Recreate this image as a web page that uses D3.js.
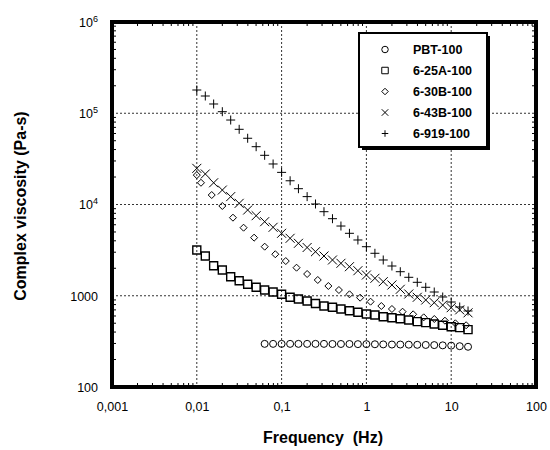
<!DOCTYPE html>
<html>
<head>
<meta charset="utf-8">
<script src="https://cdn.jsdelivr.net/npm/d3@7"></script>
<style>
  html, body { margin: 0; padding: 0; background: #fff; }
  svg { display: block; font-family: "Liberation Sans", Arial, sans-serif; }
</style>
</head>
<body>
<svg id="chart" width="550" height="450"></svg>
<script>
// ---------- data ----------
const freqMain = [0.01,0.0126,0.0158,0.02,0.0251,0.0316,0.0398,0.0501,0.0631,0.0794,
  0.1,0.126,0.158,0.2,0.251,0.316,0.398,0.501,0.631,0.794,
  1,1.26,1.58,2,2.51,3.16,3.98,5.01,6.31,7.94,10,12.6,15.8];
const freqPBT = [0.0631,0.0794,0.1,0.126,0.158,0.2,0.251,0.316,0.398,0.501,0.631,0.794,
  1,1.26,1.58,2,2.51,3.16,3.98,5.01,6.31,7.94,10,12.6,15.8];
const freq30B = [0.01,0.0112,0.015,0.02,0.0267,0.0356,0.0474,0.0632,0.0843,0.112,
  0.15,0.2,0.267,0.356,0.474,0.632,0.843,1.12,1.5,2,2.67,3.56,4.74,6.32,8.43,11.2,15];

const valPBT = [297,297,297,297,297,297,297,297,296,296,296,295,295,294,293,292,292,291,290,289,288,286,284,280,276];
const val25A = [3170,2730,2135,1915,1617,1462,1335,1238,1156,1099,1037,962,921,876,823,772,747,716,684,659,
  631,615,589,575,560,542,520,507,490,475,458,447,425];
const val30B = [21000,17300,12700,9630,7170,5570,4330,3450,2850,2400,2030,1731,1488,1279,1156,1037,952,861,
  772,716,669,626,580,556,533,499,475];
const val43B = [24900,21600,17300,14400,12200,10300,8700,7540,6480,5625,4835,4262,3756,3379,3039,2727,2465,
  2268,2082,1882,1688,1553,1426,1312,1177,1045,962,898,840,790,740,700,650];
const val919 = [179800,154500,126300,104000,84300,66700,53200,43000,34600,27800,22500,18200,14900,12200,10130,
  8340,6990,5810,4835,4083,3447,2920,2465,2118,1834,1593,1404,1238,1099,969,854,753,681];

const seriesNames = ["PBT-100","6-25A-100","6-30B-100","6-43B-100","6-919-100"];
const seriesShapes = ["circle","square","diamond","cross","plus"];

const xTicks = [0.001,0.01,0.1,1,10,100];
const xTickLabels = ["0,001","0,01","0,1","1","10","100"];
const yTicks = [100,1000,10000,100000,1000000];
const yTickBase = ["100","1000","10","10","10"];
const yTickExp = ["","","4","5","6"];

// ---------- layout ----------
const svg = d3.select("#chart");
const L = 112, R = 536, T = 22, B = 387;
const x = d3.scaleLog().domain([0.001,100]).range([L,R]);
const y = d3.scaleLog().domain([100,1e6]).range([B,T]);

const series = [
  {f: freqPBT, v: valPBT},
  {f: freqMain, v: val25A},
  {f: freq30B, v: val30B},
  {f: freqMain, v: val43B},
  {f: freqMain, v: val919}
];

// grid (dotted)
const gGrid = svg.append("g");
gGrid.selectAll("line.vx").data(xTicks.slice(1,-1)).join("line")
  .attr("x1", d => x(d)).attr("x2", d => x(d)).attr("y1", T).attr("y2", B)
  .attr("stroke", "#333").attr("stroke-width", 1).attr("stroke-dasharray", "2,2");
gGrid.selectAll("line.hy").data(yTicks.slice(1,-1)).join("line")
  .attr("y1", d => y(d)).attr("y2", d => y(d)).attr("x1", L).attr("x2", R)
  .attr("stroke", "#333").attr("stroke-width", 1).attr("stroke-dasharray", "2,2");

// minor ticks (inward on all sides)
const xMinor = [], yMinor = [];
for (let e = -3; e < 2; e++) for (let m = 2; m <= 9; m++) xMinor.push(m * Math.pow(10, e));
for (let e = 2; e < 6; e++) for (let m = 2; m <= 9; m++) yMinor.push(m * Math.pow(10, e));
const tk = 4;
const gT = svg.append("g").attr("stroke", "#000").attr("stroke-width", 1);
gT.selectAll("line.bx").data(xMinor).join("line")
  .attr("x1", d => x(d)).attr("x2", d => x(d)).attr("y1", B).attr("y2", B - tk);
gT.selectAll("line.tx").data(xMinor).join("line")
  .attr("x1", d => x(d)).attr("x2", d => x(d)).attr("y1", T).attr("y2", T + tk);
gT.selectAll("line.ly").data(yMinor).join("line")
  .attr("y1", d => y(d)).attr("y2", d => y(d)).attr("x1", L).attr("x2", L + tk);
gT.selectAll("line.ry").data(yMinor).join("line")
  .attr("y1", d => y(d)).attr("y2", d => y(d)).attr("x1", R).attr("x2", R - tk);

// markers
function markerPath(shape, s) {
  switch (shape) {
    case "circle": return d3.symbol().type(d3.symbolCircle).size(Math.PI * s * s / 4)();
    case "square": { const h = s / 2; return `M${-h},${-h}H${h}V${h}H${-h}Z`; }
    case "diamond": { const h = s / 2; return `M0,${-h}L${h},0L0,${h}L${-h},0Z`; }
    case "cross": { const h = s / 2; return `M${-h},${-h}L${h},${h}M${-h},${h}L${h},${-h}`; }
    case "plus": { const h = s / 2; return `M${-h},0H${h}M0,${-h}V${h}`; }
  }
}
const markerSize = [7, 8, 7, 9, 9];
const gData = svg.append("g");
series.forEach((s, i) => {
  const pts = s.v.map((v, j) => ({f: s.f[j], v}));
  gData.append("g").selectAll("path").data(pts).join("path")
    .attr("transform", d => `translate(${x(d.f)},${y(d.v)})`)
    .attr("d", markerPath(seriesShapes[i], markerSize[i]))
    .attr("fill", "none").attr("stroke", "#000")
    .attr("stroke-width", i === 1 ? 1.4 : 1);
});

// frame
svg.append("rect").attr("x", L).attr("y", T).attr("width", R - L).attr("height", B - T)
  .attr("fill", "none").attr("stroke", "#000").attr("stroke-width", 4);

// x labels via axis
const xAxis = d3.axisBottom(x).tickValues(xTicks)
  .tickFormat((d, i) => xTickLabels[i]).tickSize(0).tickPadding(15);
const gx = svg.append("g").attr("transform", `translate(0,${B})`).call(xAxis);
gx.select(".domain").remove();
gx.selectAll("text").attr("font-size", 12.5).attr("fill", "#000")
  .attr("font-family", "Liberation Sans, Arial, sans-serif");

// y labels via axis with superscripts
const yAxis = d3.axisLeft(y).tickValues(yTicks).tickFormat(() => "").tickSize(0).tickPadding(14);
const gy = svg.append("g").attr("transform", `translate(${L},0)`).call(yAxis);
gy.select(".domain").remove();
gy.selectAll("text").each(function(d, i) {
  const t = d3.select(this).attr("font-size", 12.5).attr("fill", "#000")
    .attr("font-family", "Liberation Sans, Arial, sans-serif").attr("dy", "0.35em");
  t.append("tspan").text(yTickBase[i]);
  if (yTickExp[i]) {
    t.append("tspan").text(yTickExp[i]).attr("font-size", 9).attr("dy", "-0.55em");
  }
});

// axis titles
svg.append("text").attr("x", 323).attr("y", 443).attr("text-anchor", "middle")
  .attr("font-weight", "bold").attr("font-size", 16).text("Frequency  (Hz)")
  .attr("xml:space", "preserve").style("white-space", "pre");
svg.append("text").attr("transform", `translate(26,206) rotate(-90)`)
  .attr("text-anchor", "middle").attr("font-weight", "bold").attr("font-size", 16)
  .text("Complex viscosity (Pa-s)");

// legend
const lg = svg.append("g").attr("transform", "translate(359,33)");
lg.append("rect").attr("x", 3).attr("y", 3).attr("width", 128).attr("height", 114).attr("fill", "#000");
lg.append("rect").attr("x", 0).attr("y", 0).attr("width", 128).attr("height", 114)
  .attr("fill", "#fff").attr("stroke", "#000").attr("stroke-width", 2);
seriesNames.forEach((n, i) => {
  const yy = 16.5 + i * 21;
  lg.append("path").attr("transform", `translate(26,${yy})`)
    .attr("d", markerPath(seriesShapes[i], 6.5))
    .attr("fill", "none").attr("stroke", "#000").attr("stroke-width", 1);
  lg.append("text").attr("x", 54).attr("y", yy).attr("dy", "0.36em")
    .attr("font-weight", "bold").attr("font-size", 12.5).text(n);
});
</script>
</body>
</html>
